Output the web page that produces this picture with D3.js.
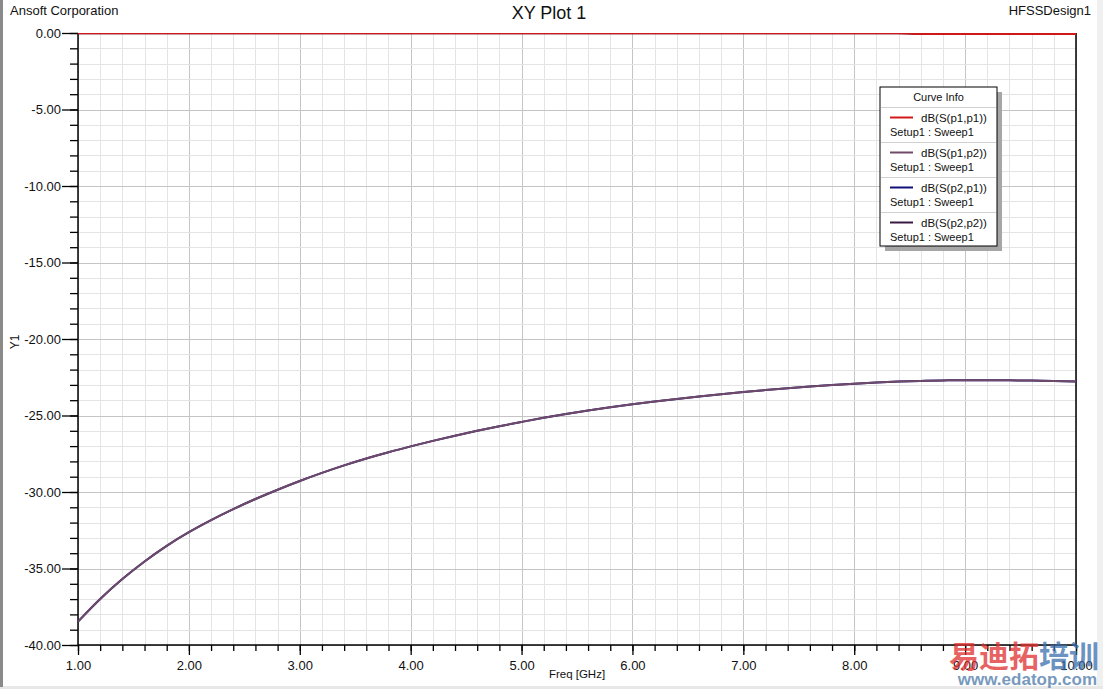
<!DOCTYPE html>
<html>
<head>
<meta charset="utf-8">
<script src="https://cdn.jsdelivr.net/npm/d3@7"></script>
<style>
html,body{margin:0;padding:0;background:#fff;}
svg{display:block;font-family:"Liberation Sans",Arial,sans-serif;}
</style>
</head>
<body>
<svg id="chart" width="1103" height="689"></svg>
<script>
// ---- data ----
const freq = [1.0,1.2,1.4,1.6,1.8,2.0,2.2,2.4,2.6,2.8,3.0,3.2,3.4,3.6,3.8,4.0,4.2,4.4,4.6,4.8,5.0,5.2,5.4,5.6,5.8,6.0,6.2,6.4,6.6,6.8,7.0,7.2,7.4,7.6,7.8,8.0,8.2,8.4,8.6,8.8,9.0,9.2,9.4,9.6,9.8,10.0];
const s12 = [-38.47,-36.99,-35.69,-34.54,-33.52,-32.63,-31.84,-31.12,-30.46,-29.85,-29.28,-28.75,-28.26,-27.81,-27.40,-27.02,-26.66,-26.32,-26.00,-25.70,-25.42,-25.15,-24.90,-24.67,-24.46,-24.27,-24.09,-23.92,-23.76,-23.61,-23.47,-23.34,-23.22,-23.11,-23.01,-22.92,-22.84,-22.78,-22.74,-22.71,-22.69,-22.69,-22.70,-22.72,-22.75,-22.78];
const s21 = s12.slice();
const s11 = [-0.01,-0.01,-0.01,-0.01,-0.01,-0.01,-0.01,-0.01,-0.01,-0.01,-0.01,-0.01,-0.01,-0.01,-0.01,-0.01,-0.01,-0.01,-0.01,-0.01,-0.01,-0.01,-0.01,-0.01,-0.01,-0.01,-0.01,-0.01,-0.01,-0.01,-0.01,-0.01,-0.01,-0.01,-0.01,-0.01,-0.01,-0.02,-0.06,-0.06,-0.06,-0.06,-0.06,-0.06,-0.06,-0.06];
const s22 = s11.slice();
const seriesNames = ["dB(S(p1,p1))","dB(S(p1,p2))","dB(S(p2,p1))","dB(S(p2,p2))"];
const seriesColors = ["#d01818","#704a68","#10107a","#3a1a42"];
const seriesSub = "Setup1 : Sweep1";
const xTickLabels = ["1.00","2.00","3.00","4.00","5.00","6.00","7.00","8.00","9.00","10.00"];
const yTickLabels = ["0.00","-5.00","-10.00","-15.00","-20.00","-25.00","-30.00","-35.00","-40.00"];

// ---- layout ----
const svg = d3.select("#chart");
const L = 78, R = 1076, T = 33, B = 645;
const x = d3.scaleLinear().domain([1,10]).range([L,R]);
const y = d3.scaleLinear().domain([-40,0]).range([B,T]);

// window frame
svg.append("rect").attr("x",0).attr("y",0).attr("width",1103).attr("height",689).attr("fill","#fff");
svg.append("rect").attr("x",1097).attr("y",0).attr("width",6).attr("height",689).attr("fill","#f0f0f0");
svg.append("rect").attr("x",0).attr("y",686).attr("width",1103).attr("height",3).attr("fill","#e8e8e8");
svg.append("rect").attr("x",0).attr("y",0).attr("width",3).attr("height",687).attr("fill","#8a8a8a");

// grid
const minorX = d3.range(1,10.0001,0.2);
const minorY = d3.range(-40,0.0001,1);
const g = svg.append("g");
g.selectAll(".mx").data(minorX).enter().append("line")
  .attr("x1",d=>Math.round(x(d))+0.5).attr("x2",d=>Math.round(x(d))+0.5).attr("y1",T).attr("y2",B)
  .attr("stroke",(d)=>Math.abs(d-Math.round(d))<1e-6?"#c4c4c4":"#e4e4e4").attr("stroke-width",1);
g.selectAll(".my").data(minorY).enter().append("line")
  .attr("y1",d=>Math.round(y(d))+0.5).attr("y2",d=>Math.round(y(d))+0.5).attr("x1",L).attr("x2",R)
  .attr("stroke",(d)=>Math.abs(d%5)<1e-6?"#c4c4c4":"#e4e4e4").attr("stroke-width",1);

// axes
const yAxisMajor = d3.axisLeft(y).tickValues(d3.range(0,-40.001,-5)).tickSize(16).tickPadding(1)
  .tickFormat((d,i)=>yTickLabels[i]);
const yAxisMinor = d3.axisLeft(y).tickValues(minorY).tickSize(8).tickFormat("");
const xAxisMajor = d3.axisBottom(x).tickValues(d3.range(1,10.001,1)).tickSize(10).tickPadding(6)
  .tickFormat((d,i)=>xTickLabels[i]);
const xAxisMinor = d3.axisBottom(x).tickValues(minorX).tickSize(6).tickFormat("");

function styleAxis(sel){
  sel.select(".domain").remove();
  sel.selectAll("line").attr("stroke","#000").attr("stroke-width",1.3);
  sel.selectAll("text").attr("fill","#111").style("font-size","13px").style("font-family","\"Liberation Sans\",Arial,sans-serif");
}
svg.append("g").attr("transform",`translate(${L},0)`).call(yAxisMinor).call(styleAxis);
svg.append("g").attr("transform",`translate(${L},0)`).call(yAxisMajor).call(styleAxis);
svg.append("g").attr("transform",`translate(0,${B})`).call(xAxisMinor).call(styleAxis);
svg.append("g").attr("transform",`translate(0,${B})`).call(xAxisMajor).call(styleAxis);

// frame lines
svg.append("line").attr("x1",L).attr("x2",L).attr("y1",T).attr("y2",B+1).attr("stroke","#000").attr("stroke-width",1.5);
svg.append("line").attr("x1",L).attr("x2",R).attr("y1",B).attr("y2",B).attr("stroke","#000").attr("stroke-width",1.5);
svg.append("line").attr("x1",R).attr("x2",R).attr("y1",T).attr("y2",B).attr("stroke","#000").attr("stroke-width",1.5);

// curves
svg.append("defs").append("clipPath").attr("id","clip").append("rect")
  .attr("x",L).attr("y",T).attr("width",R-L).attr("height",B-T);
const line = d3.line().x((d,i)=>x(freq[i])).y(d=>y(d)).curve(d3.curveMonotoneX);
const cg = svg.append("g").attr("clip-path","url(#clip)");
const drawOrder = [[s21,2],[s22,3],[s12,1],[s11,0]];
drawOrder.forEach(([arr,ci])=>{
  cg.append("path").datum(arr).attr("d",line).attr("fill","none")
    .attr("stroke",seriesColors[ci]).attr("stroke-width",2);
});

// titles
svg.append("text").attr("x",10).attr("y",15).text("Ansoft Corporation").style("font-size","13px").attr("fill","#111");
svg.append("text").attr("x",549).attr("y",19).attr("text-anchor","middle").text("XY Plot 1").style("font-size","18px").attr("fill","#111");
svg.append("text").attr("x",1091).attr("y",15).attr("text-anchor","end").text("HFSSDesign1").style("font-size","13px").attr("fill","#111");
svg.append("text").attr("x",577).attr("y",678).attr("text-anchor","middle").text("Freq [GHz]").style("font-size","11.5px").attr("fill","#111");
svg.append("text").attr("transform","translate(19,342) rotate(-90)").attr("text-anchor","middle").text("Y1").style("font-size","12px").attr("fill","#111");

// legend
const lx = 880, ly = 87, lw = 117, lh = 159;
svg.append("rect").attr("x",lx+5).attr("y",ly+5).attr("width",lw).attr("height",lh).attr("fill","#a6a6a6");
svg.append("rect").attr("x",lx).attr("y",ly).attr("width",lw).attr("height",lh).attr("fill","#fff").attr("stroke","#000").attr("stroke-width",1);
svg.append("text").attr("x",lx+lw/2).attr("y",ly+14).attr("text-anchor","middle").text("Curve Info").style("font-size","11px").attr("fill","#111");
svg.append("line").attr("x1",lx+1).attr("x2",lx+lw-1).attr("y1",ly+20.5).attr("y2",ly+20.5).attr("stroke","#d0d0d0");
seriesNames.forEach((name,i)=>{
  const by = ly + 20 + i*35;
  svg.append("line").attr("x1",lx+10).attr("x2",lx+33).attr("y1",by+10.5).attr("y2",by+10.5)
    .attr("stroke",seriesColors[i]).attr("stroke-width",2);
  svg.append("text").attr("x",lx+41).attr("y",by+14.5).text(name).style("font-size","11.5px").attr("fill","#111");
  svg.append("text").attr("x",lx+10).attr("y",by+28.5).text(seriesSub).style("font-size","11px").attr("fill","#111");
  if(i<3) svg.append("line").attr("x1",lx+1).attr("x2",lx+lw-1).attr("y1",by+35.5).attr("y2",by+35.5).attr("stroke","#d0d0d0");
});

// watermark (present in the reference image)
const wm = svg.append("g").style("font-weight","bold");
wm.append("text").attr("x",949).attr("y",667).text("易迪拓").style("font-size","30px").style("font-family","\"Noto Sans CJK SC\",sans-serif").attr("fill","#e0302f").attr("opacity",0.75);
wm.append("text").attr("x",1039).attr("y",667).text("培训").style("font-size","30px").style("font-family","\"Noto Sans CJK SC\",sans-serif").attr("fill","#3a6fae").attr("opacity",0.75);
wm.append("text").attr("x",1097).attr("y",685).attr("text-anchor","end").text("www.edatop.com").style("font-size","17px").attr("fill","#4a78a8").attr("opacity",0.75);
</script>
</body>
</html>
